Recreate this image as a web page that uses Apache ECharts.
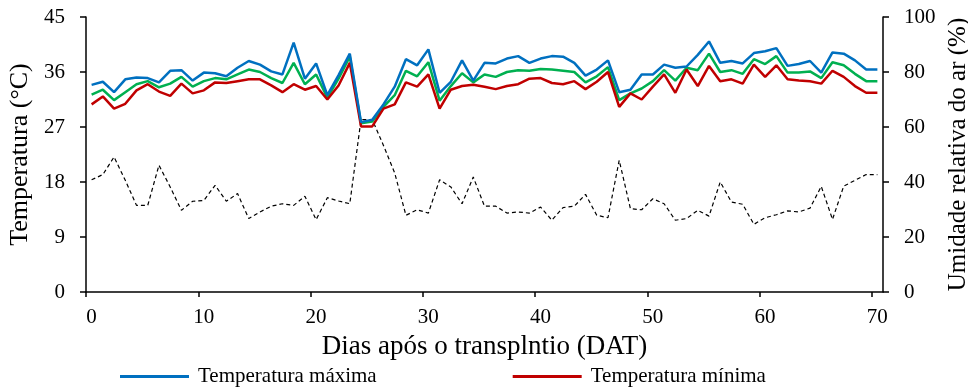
<!DOCTYPE html>
<html>
<head>
<meta charset="utf-8">
<script src="https://cdn.jsdelivr.net/npm/echarts@6/dist/echarts.min.js"></script>
<style>
  html, body { margin: 0; padding: 0; background: #fff; }
  #chart { width: 968px; height: 389px; }
</style>
</head>
<body>
<div id="chart"></div>
<script>
// dias (posição dos pontos no eixo x)
var days = [0.5, 1.5, 2.5, 3.5, 4.5, 5.5, 6.5, 7.5, 8.5, 9.5,
  10.5, 11.5, 12.5, 13.5, 14.5, 15.5, 16.5, 17.5, 18.5, 19.5,
  20.5, 21.5, 22.5, 23.5, 24.5, 25.5, 26.5, 27.5, 28.5, 29.5,
  30.5, 31.5, 32.5, 33.5, 34.5, 35.5, 36.5, 37.5, 38.5, 39.5,
  40.5, 41.5, 42.5, 43.5, 44.5, 45.5, 46.5, 47.5, 48.5, 49.5,
  50.5, 51.5, 52.5, 53.5, 54.5, 55.5, 56.5, 57.5, 58.5, 59.5,
  60.5, 61.5, 62.5, 63.5, 64.5, 65.5, 66.5, 67.5, 68.5, 69.5, 70.5];

var tMax = [33.9, 34.4, 32.7, 34.8, 35.1, 35.0, 34.3, 36.2, 36.3, 34.6,
  35.9, 35.8, 35.3, 36.7, 37.8, 37.2, 36.1, 35.6, 40.8, 34.9,
  37.4, 32.2, 35.5, 39.0, 27.8, 28.2, 30.7, 33.6, 38.1, 37.1,
  39.7, 32.6, 34.4, 37.9, 34.6, 37.5, 37.4, 38.2, 38.6, 37.5,
  38.2, 38.6, 38.5, 37.5, 35.4, 36.4, 37.9, 32.7, 33.1, 35.6,
  35.6, 37.2, 36.7, 36.9, 38.8, 41.0, 37.5, 37.8, 37.4, 39.1,
  39.4, 39.9, 37.0, 37.3, 37.8, 35.9, 39.2, 39.0, 37.9, 36.4, 36.4];

var tMed = [32.3, 33.1, 31.4, 32.7, 34.0, 34.5, 33.5, 34.1, 35.2, 33.6,
  34.5, 35.0, 34.8, 35.6, 36.4, 36.0, 35.0, 34.2, 37.5, 34.0,
  35.6, 31.8, 34.9, 38.5, 27.6, 27.9, 30.3, 32.2, 36.2, 35.3,
  37.6, 31.3, 33.7, 35.8, 34.3, 35.6, 35.2, 36.0, 36.3, 36.2,
  36.5, 36.4, 36.2, 36.0, 34.3, 35.3, 36.8, 31.4, 32.5, 33.3,
  34.5, 36.3, 34.6, 36.7, 36.3, 39.0, 36.0, 36.3, 35.7, 38.1,
  37.3, 38.6, 35.9, 35.9, 36.1, 35.0, 37.6, 37.1, 35.7, 34.5, 34.5];

var tMin = [30.7, 32.0, 30.0, 30.8, 33.0, 34.0, 32.8, 32.1, 34.1, 32.5,
  33.0, 34.3, 34.2, 34.5, 34.8, 34.8, 33.8, 32.7, 34.0, 33.1,
  33.7, 31.5, 33.8, 37.5, 27.1, 27.1, 30.0, 30.7, 34.3, 33.6,
  35.6, 30.0, 33.1, 33.7, 33.9, 33.6, 33.2, 33.7, 34.0, 34.9,
  35.0, 34.2, 34.0, 34.5, 33.2, 34.4, 36.0, 30.3, 32.5, 31.5,
  33.6, 35.6, 32.6, 36.4, 33.7, 37.0, 34.5, 34.8, 34.1, 37.2,
  35.2, 37.1, 34.8, 34.6, 34.5, 34.1, 36.2, 35.2, 33.7, 32.6, 32.6];

var umidade = [40.8, 42.7, 49.1, 40.6, 31.5, 31.5, 46.1, 38.2, 29.7, 33.0,
  33.3, 38.8, 33.0, 35.8, 26.7, 29.1, 31.2, 32.1, 31.5, 34.8,
  26.3, 34.3, 33.1, 32.1, 62.7, 62.7, 53.3, 43.3, 27.9, 29.9,
  28.7, 40.8, 38.2, 32.1, 41.8, 31.2, 31.2, 28.7, 29.1, 28.7,
  30.9, 26.1, 30.7, 31.2, 35.5, 27.9, 27.0, 47.9, 30.3, 29.9,
  33.9, 32.1, 26.1, 26.7, 29.7, 27.6, 40.0, 32.7, 31.9, 24.6,
  27.0, 28.1, 29.5, 29.1, 30.5, 38.4, 26.4, 38.5, 40.6, 42.7, 42.7];

var xTicks = [0, 10, 20, 30, 40, 50, 60, 70];

function pares(vals) {
  return vals.map(function (v, i) { return [days[i], v]; });
}

var fonte = '"Liberation Serif", "Times New Roman", serif';
var preto = '#000';

var chart = echarts.init(document.getElementById('chart'));

var option = {
  animation: false,
  backgroundColor: '#fff',
  textStyle: { fontFamily: fonte, color: preto },
  grid: { left: 86, right: 85, top: 17, bottom: 97, outerBoundsMode: 'none', containLabel: false },
  legend: {
    data: ['Temperatura máxima', 'Temperatura mínima'],
    left: 115,
    top: 361,
    itemWidth: 69,
    itemHeight: 3,
    itemGap: 136,
    icon: 'rect',
    textStyle: { fontFamily: fonte, fontSize: 21, color: preto, padding: [0, 0, 0, 4] }
  },
  xAxis: {
    type: 'value',
    min: 0,
    max: 71,
    interval: 10,
    name: 'Dias após o transplntio (DAT)',
    nameLocation: 'middle',
    nameGap: 41,
    nameTextStyle: { fontFamily: fonte, fontSize: 27, color: preto },
    axisLine: { lineStyle: { color: preto, width: 1.5 } },
    axisTick: { show: true, customValues: xTicks, length: 5, lineStyle: { color: preto, width: 1.5 } },
    axisLabel: {
      customValues: xTicks,
      fontFamily: fonte, fontSize: 21, color: preto, margin: 15,
      padding: [0, 0, 0, 11]
    },
    splitLine: { show: false }
  },
  yAxis: [{
    type: 'value',
    min: 0,
    max: 45,
    interval: 9,
    name: 'Temperatura (°C)',
    nameLocation: 'middle',
    nameRotate: 90,
    nameGap: 50,
    nameTextStyle: { fontFamily: fonte, fontSize: 26, color: preto },
    axisLine: { show: true, lineStyle: { color: preto, width: 1.5 } },
    axisTick: { show: true, length: 6, lineStyle: { color: preto, width: 1.5 } },
    axisLabel: { fontFamily: fonte, fontSize: 21, color: preto, margin: 21 },
    splitLine: { show: false }
  }, {
    type: 'value',
    position: 'right',
    min: 0,
    max: 100,
    interval: 20,
    name: 'Umidade relativa do ar (%)',
    nameLocation: 'middle',
    nameRotate: 90,
    nameGap: 61,
    nameTextStyle: { fontFamily: fonte, fontSize: 25, color: preto },
    axisLine: { show: true, lineStyle: { color: preto, width: 1.5 } },
    axisTick: { show: true, length: 6, lineStyle: { color: preto, width: 1.5 } },
    axisLabel: { fontFamily: fonte, fontSize: 21, color: preto, margin: 21 },
    splitLine: { show: false }
  }],
  series: [{
    name: 'Umidade relativa do ar',
    type: 'line',
    yAxisIndex: 1,
    data: pares(umidade),
    symbol: 'none',
    lineStyle: { color: preto, width: 1.2, type: [4, 3] },
    itemStyle: { color: preto },
    z: 1
  }, {
    name: 'Temperatura média',
    type: 'line',
    data: pares(tMed),
    symbol: 'none',
    lineStyle: { color: '#00B050', width: 2.5 },
    itemStyle: { color: '#00B050' },
    z: 2
  }, {
    name: 'Temperatura mínima',
    type: 'line',
    data: pares(tMin),
    symbol: 'none',
    lineStyle: { color: '#C00000', width: 2.5 },
    itemStyle: { color: '#C00000' },
    z: 3
  }, {
    name: 'Temperatura máxima',
    type: 'line',
    data: pares(tMax),
    symbol: 'none',
    lineStyle: { color: '#0070C0', width: 2.5 },
    itemStyle: { color: '#0070C0' },
    z: 4
  }]
};

chart.setOption(option);
</script>
</body>
</html>
